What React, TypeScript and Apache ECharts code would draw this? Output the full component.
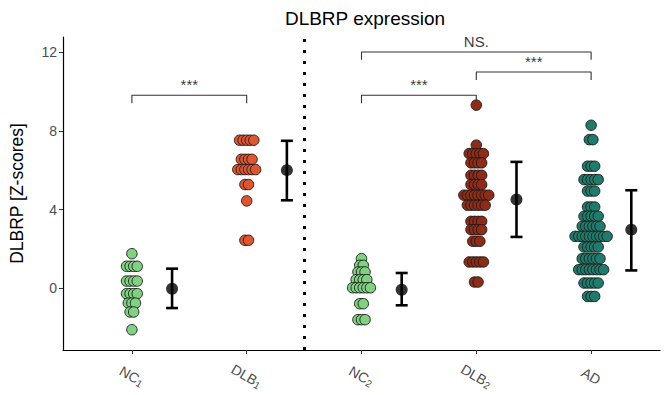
import React, { useEffect, useRef } from "react";
import * as echarts from "echarts";

const groupNames = ["NC1", "DLB1", "NC2", "DLB2", "AD"];
const labelMain = ["NC", "DLB", "NC", "DLB", "AD"];
const labelSub = ["1", "1", "2", "2", ""];
const groupColors = ["#7fd27f", "#de552f", "#8e2c17", "#1f7c6c"];

const nc1 = [1.76, 1.12, 1.12, 1.12, 1.12, 0.37, 0.37, 0.37, 0.37, -0.27, -0.27, -0.27, -0.27, -0.75, -0.75, -0.75, -1.2, -1.2, -2.1];
const dlb1 = [7.52, 7.52, 7.52, 7.52, 7.52, 6.55, 6.55, 6.55, 6.55, 6.03, 6.03, 6.03, 6.03, 6.03, 6.03, 5.27, 5.27, 4.44, 2.44, 2.44];
const nc2 = [1.51, 1.17, 1.17, 0.83, 0.83, 0.83, 0.44, 0.44, 0.44, 0.44, 0.03, 0.03, 0.03, 0.03, 0.03, 0.03, -0.78, -0.78, -1.59, -1.59, -1.59];
const dlb2 = [9.3, 7.27, 6.84, 6.84, 6.84, 6.84, 6.84, 6.37, 6.37, 6.37, 6.37, 5.74, 5.74, 5.74, 5.74, 5.27, 5.27, 5.27, 5.27,
  4.73, 4.73, 4.73, 4.73, 4.73, 4.73, 4.73, 4.73, 4.22, 4.22, 4.22, 4.22, 4.22, 4.22, 3.4, 3.4, 3.4, 3.4, 2.98, 2.98, 2.98, 2.98,
  2.39, 2.39, 2.39, 1.34, 1.34, 1.34, 1.34, 1.34, 0.32, 0.32];
const ad = [8.28, 7.55, 7.55, 6.2, 6.2, 6.2, 5.52, 5.52, 5.52, 5.52, 5.52, 4.94, 4.94, 4.94, 4.13, 4.13, 4.13, 3.66, 3.66, 3.66, 3.66, 3.66,
  3.15, 3.15, 3.15, 3.15, 3.15, 3.15, 2.64, 2.64, 2.64, 2.64, 2.64, 2.64, 2.64, 2.64, 2.64, 2.64, 2.1, 2.1, 2.1, 2.1, 2.1,
  1.51, 1.51, 1.51, 1.51, 1.51, 1.51, 0.95, 0.95, 0.95, 0.95, 0.95, 0.95, 0.95, 0.95, 0.27, 0.27, 0.27, 0.27, 0.27, -0.41, -0.41, -0.41];
const groupValues = [nc1, dlb1, nc2, dlb2, ad];
const groupColorIndex = [0, 1, 0, 2, 3];

const meanValues = [-0.02, 6.0, -0.07, 4.51, 2.98];
const lowValues = [-1.0, 4.47, -0.86, 2.61, 0.91];
const highValues = [1.0, 7.49, 0.78, 6.42, 4.98];

const bracketFrom = [1, 3, 4, 3];
const bracketTo = [2, 4, 5, 5];
const bracketY = [9.8, 9.8, 10.98, 12.0];
const bracketLabel = ["***", "***", "***", "NS."];

const yTicks = [0, 4, 8, 12];
const FONT = "'Liberation Sans', Arial, sans-serif";

function swarm(values: number[], center: number, step: number) {
  const counts: Record<string, number> = {};
  values.forEach((v) => (counts[String(v)] = (counts[String(v)] || 0) + 1));
  const seen: Record<string, number> = {};
  return values.map((v) => {
    const k = String(v);
    const i = seen[k] || 0;
    seen[k] = i + 1;
    const n = counts[k];
    return [center + (i - (n - 1) / 2) * step, v];
  });
}

export default function App() {
  const ref = useRef<HTMLDivElement>(null);
  useEffect(() => {
    document.body.style.margin = "0";
    const chart = echarts.init(ref.current!, null, { renderer: "svg" });
    const series: any[] = [];
    groupValues.forEach((vals, gi) => {
      series.push({
        type: "scatter",
        name: groupNames[gi],
        data: swarm(vals, gi + 1, 0.031),
        symbolSize: 10.5,
        itemStyle: {
          color: groupColors[groupColorIndex[gi]],
          borderColor: "#1a1a1a",
          borderWidth: 0.9,
          opacity: 1,
        },
        z: 3,
      });
    });
    series.push({
      type: "custom",
      name: "errorbars",
      data: meanValues.map((m, i) => [i + 1 + 0.35, lowValues[i], highValues[i]]),
      renderItem: (params: any, api: any) => {
        const x = api.value(0);
        const top = api.coord([x, api.value(2)]);
        const bot = api.coord([x, api.value(1)]);
        const hw = 6;
        const st = { stroke: "#000", lineWidth: 2.6 };
        return {
          type: "group",
          children: [
            { type: "line", shape: { x1: top[0], y1: top[1], x2: bot[0], y2: bot[1] }, style: st },
            { type: "line", shape: { x1: top[0] - hw, y1: top[1], x2: top[0] + hw, y2: top[1] }, style: st },
            { type: "line", shape: { x1: bot[0] - hw, y1: bot[1], x2: bot[0] + hw, y2: bot[1] }, style: st },
          ],
        };
      },
      z: 4,
    });
    series.push({
      type: "scatter",
      name: "means",
      data: meanValues.map((m, i) => [i + 1 + 0.35, m]),
      symbolSize: 12,
      itemStyle: { color: "#000" },
      z: 5,
    });
    bracketFrom.forEach((f, i) => {
      const t = bracketTo[i];
      const y = bracketY[i];
      series.push({
        type: "line",
        data: [[f, y - 0.4], [f, y], [t, y], [t, y - 0.4]],
        symbol: "none",
        lineStyle: { color: "#333", width: 1.1 },
        z: 2,
      });
    });
    series.push({
      type: "scatter",
      name: "bracketLabels",
      data: bracketFrom.map((f, i) => ({ value: [(f + bracketTo[i]) / 2, bracketY[i]], name: bracketLabel[i] })),
      symbolSize: 0,
      label: {
        show: true,
        position: "top",
        distance: 3,
        formatter: (p: any) => p.name,
        color: "#000",
        fontSize: 15,
        fontFamily: FONT,
      },
      markLine: {
        silent: true,
        symbol: "none",
        label: { show: false },
        lineStyle: { color: "#000", type: [3, 8], width: 3, cap: "butt" },
        data: [{ xAxis: 2.5 }],
      },
      z: 2,
    });

    chart.setOption({
      animation: false,
      backgroundColor: "#fff",
      title: {
        text: "DLBRP expression",
        left: 360,
        textAlign: "center",
        top: 4,
        textStyle: { fontSize: 19, fontWeight: "normal", color: "#000", fontFamily: FONT },
      },
      grid: { left: 60, right: 5, top: 37, bottom: 45 },
      xAxis: {
        type: "value",
        min: 0.4,
        max: 5.6,
        splitLine: { show: false },
        axisLine: { onZero: false, lineStyle: { color: "#000", width: 1.2 } },
        axisTick: { show: true, length: 4, customValues: [1, 2, 3, 4, 5], lineStyle: { color: "#333" } },
        axisLabel: {
          customValues: [1, 2, 3, 4, 5],
          rotate: -30,
          align: "center",
          verticalAlign: "middle",
          margin: 26,
          color: "#4d4d4d",
          formatter: (v: number) => {
            const i = Math.round(v) - 1;
            return labelSub[i] ? `{m|${labelMain[i]}}{s|${labelSub[i]}}` : `{m|${labelMain[i]}}`;
          },
          rich: {
            m: { fontSize: 14, color: "#4d4d4d", fontFamily: FONT, lineHeight: 16 },
            s: { fontSize: 10, color: "#4d4d4d", fontFamily: FONT, lineHeight: 8, verticalAlign: "bottom" },
          },
        },
      },
      yAxis: {
        type: "value",
        min: -3.13,
        max: 12.76,
        name: "DLBRP [Z-scores]",
        nameLocation: "middle",
        nameGap: 37,
        nameTextStyle: { fontSize: 17.5, color: "#000", fontFamily: FONT },
        splitLine: { show: false },
        axisLine: { show: true, onZero: false, lineStyle: { color: "#000", width: 1.2 } },
        axisTick: { show: true, length: 4, customValues: yTicks, lineStyle: { color: "#333" } },
        axisLabel: {
          customValues: yTicks,
          margin: 6,
          fontSize: 14,
          color: "#4d4d4d",
          fontFamily: FONT,
        },
      },
      series,
    });
    return () => chart.dispose();
  }, []);
  return <div ref={ref} style={{ width: 665, height: 395 }} />;
}
